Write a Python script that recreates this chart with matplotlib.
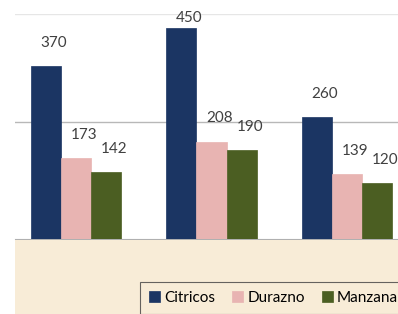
import matplotlib
matplotlib.use("Agg")
import matplotlib.pyplot as plt
from matplotlib.patches import Rectangle
import numpy as np

categories = ["Promedio", "Máximo", "Minimo"]
series_names = ["Citricos", "Durazno", "Manzana"]
citricos = [370, 450, 260]
durazno = [173, 208, 139]
manzana = [142, 190, 120]
colors = ["#1b3563", "#e8b4b2", "#4b5e22"]

W, H = 398, 314
fig = plt.figure(figsize=(W / 100, H / 100), dpi=100)
fig.patch.set_facecolor("white")
# beige chart background below the plot area
fig.patches.append(Rectangle((15 / W, 0), 1 - 15 / W, (314 - 240) / H,
                             transform=fig.transFigure, facecolor="#f8ecd7",
                             edgecolor="none", zorder=0))

ax = fig.add_axes([15 / W, (314 - 239) / H, 1 - 15 / W, (239 - 14) / H])
ax.set_facecolor("white")
ax.set_xlim(-0.45, 2.376)
ax.set_ylim(0, 480)
x = np.arange(len(categories))
bw = 0.222
for i, (name, vals) in enumerate(zip(series_names, [citricos, durazno, manzana])):
    pos = x + (i - 1) * bw
    ax.bar(pos, vals, width=bw, color=colors[i], label=name, zorder=3,
           edgecolor=colors[i], linewidth=0.5)
    for p, v in zip(pos, vals):
        dx, dy = ax.transData.transform((p, v))
        ty = min(dy + 23, H - 18)
        fig.text((dx + 8) / W, ty / H, str(v), ha="center", va="center",
                 fontsize=11, color="#404040", family="Lato")

ax.axhline(250, color="#b8b8b8", lw=1, zorder=1)
ax.axhline(480, color="#e6e6e6", lw=1, zorder=1)
for s in ["top", "right", "left"]:
    ax.spines[s].set_visible(False)
ax.spines["bottom"].set_color("#b0b0b0")
ax.set_yticks([])
ax.set_xticks(x)
ax.set_xticklabels(categories, fontsize=11, color="#303030", family="Lato")
ax.tick_params(axis="x", length=0, pad=13)

handles, labels = ax.get_legend_handles_labels()
leg = fig.legend(handles, labels, loc="upper left",
                 bbox_to_anchor=(140 / W, 1 - 282 / H), ncol=3,
                 frameon=True, fancybox=False, borderaxespad=0,
                 handlelength=0.7, handleheight=0.7, handletextpad=0.3,
                 columnspacing=1.1, borderpad=0.6,
                 prop={"family": "Lato", "size": 11})
leg.get_frame().set_edgecolor("#404040")
leg.get_frame().set_facecolor("#f8ecd7")
leg.get_frame().set_linewidth(0.8)

fig.savefig("out.png", dpi=100)
